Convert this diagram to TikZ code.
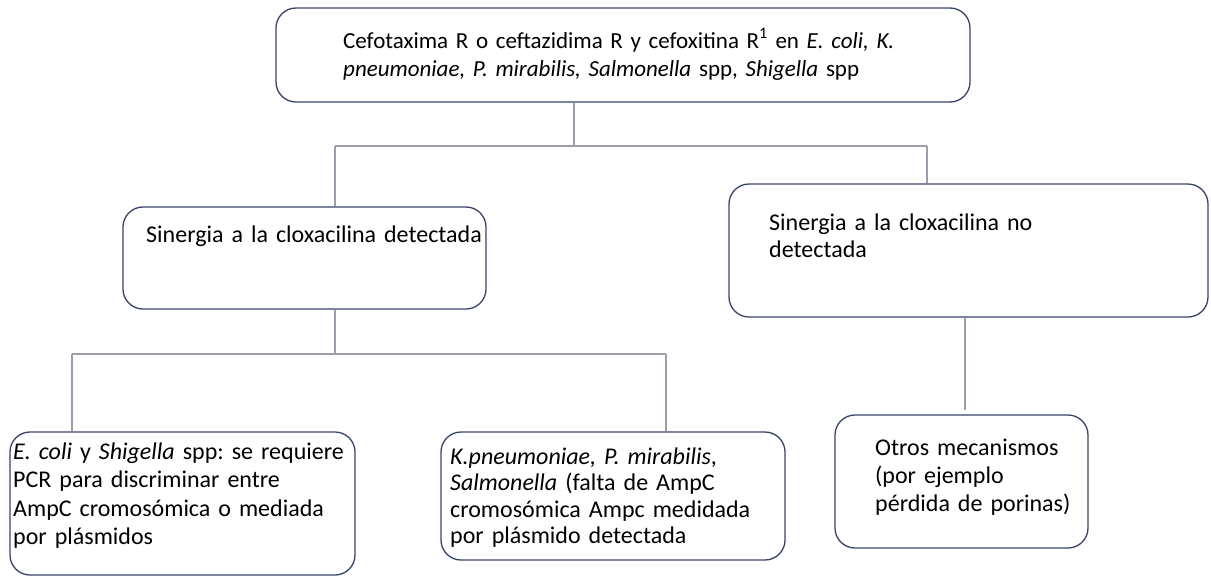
\documentclass[tikz,border=0pt]{standalone}
\usepackage{fontspec}
\setmainfont{Carlito}
\begin{document}
\frenchspacing
\begin{tikzpicture}[x=1pt,y=-1pt,
  box/.style={draw=boxcol, line width=1.3pt, rounded corners=20pt, fill=white, inner sep=0pt},
  txt/.style={anchor=base west, inner sep=0pt, align=left, text width=#1, font=\fontsize{24}{28.5}\selectfont},
  txt/.default=400pt,
  conn/.style={draw=conncol, line width=1.1pt}]
\definecolor{boxcol}{HTML}{3A4468}
\definecolor{conncol}{HTML}{9A9EAE}
\useasboundingbox (0,0) rectangle (1211,576);
\fill[white] (0,0) rectangle (1211,576);

% coordinates of junctions
\coordinate (j1) at (574,146);
\coordinate (jl) at (335,146);
\coordinate (jr) at (927,146);
\coordinate (j2) at (335,354);
\coordinate (j2l) at (72,354);
\coordinate (j2r) at (666,354);
\coordinate (j3) at (965,410);

% boxes
\node[box, minimum width=694pt, minimum height=94pt] (top) at (623,55) {};
\node[box, minimum width=363pt, minimum height=102pt] (midl) at (304.5,258) {};
\node[box, minimum width=479pt, minimum height=133pt] (midr) at (968.5,250.5) {};
\node[box, minimum width=345pt, minimum height=143pt] (botl) at (182.5,503.5) {};
\node[box, minimum width=344pt, minimum height=128pt] (botm) at (613,496) {};
\node[box, minimum width=253pt, minimum height=133pt] (botr) at (961.5,481.5) {};

% connectors
\draw[conn] (top.south -| j1) -- (j1);
\draw[conn] (jl) -- (jr);
\draw[conn] (jl) -- (midl.north -| jl);
\draw[conn] (jr) -- (midr.north -| jr);
\draw[conn] (midl.south -| j2) -- (j2);
\draw[conn] (j2l) -- (j2r);
\draw[conn] (j2l) -- (botl.north -| j2l);
\draw[conn] (j2r) -- (botm.north -| j2r);
\draw[conn] (midr.south -| j3) -- (j3);

% texts
\node[txt=620pt, font=\fontsize{23}{28}\selectfont] (toptext) at (343,48)
  {Cefotaxima R o ceftazidima R y cefoxitina R\textsuperscript{1} en \textit{E. coli, K.}\\
   \textit{pneumoniae, P. mirabilis, Salmonella} spp, \textit{Shigella} spp};
\node[txt] (midltext) at (146,242) {Sinergia a la cloxacilina detectada};
\node[txt, font=\fontsize{24}{27}\selectfont] (midrtext) at (769,230)
  {Sinergia a la cloxacilina no\\detectada};
\node[txt] (botltext) at (13,459)
  {\textit{E. coli} y \textit{Shigella} spp: se requiere\\PCR para discriminar entre\\AmpC cromosómica o mediada\\por plásmidos};
\node[txt, font=\fontsize{24}{26.5}\selectfont] (botmtext) at (450,464)
  {\textit{K.pneumoniae, P. mirabilis},\\\textit{Salmonella} (falta de AmpC\\cromosómica Ampc medidada\\por plásmido detectada};
\node[txt, font=\fontsize{24}{28}\selectfont] (botrtext) at (875,455)
  {Otros mecanismos\\(por ejemplo\\pérdida de porinas)};
\end{tikzpicture}
\end{document}
